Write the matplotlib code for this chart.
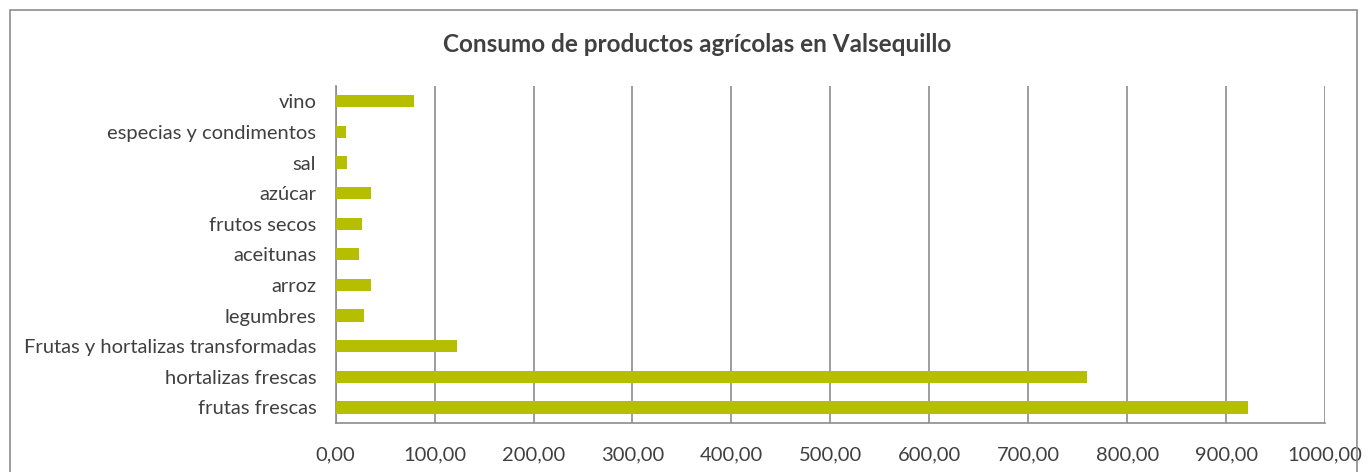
import matplotlib
matplotlib.use("Agg")
import matplotlib.pyplot as plt
from matplotlib.patches import Rectangle

categories = ["frutas frescas", "hortalizas frescas", "Frutas y hortalizas transformadas",
              "legumbres", "arroz", "aceitunas", "frutos secos", "azúcar", "sal",
              "especias y condimentos", "vino"]
values = [922.0, 759.0, 123.0, 28.5, 36.0, 23.5, 26.5, 36.0, 11.0, 10.5, 79.0]
xticks = [0, 100, 200, 300, 400, 500, 600, 700, 800, 900, 1000]
xticklabels = ["0,00", "100,00", "200,00", "300,00", "400,00", "500,00",
               "600,00", "700,00", "800,00", "900,00", "1000,00"]
title = "Consumo de productos agrícolas en Valsequillo"

plt.rcParams['font.family'] = ['Lato', 'DejaVu Sans']

fig = plt.figure(figsize=(13.68, 4.72), dpi=100)
fig.patches.append(Rectangle((10/1368, -0.05), 1347/1368, 1.05 - 10/472,
                             transform=fig.transFigure, fill=False,
                             edgecolor="#8c8c8c", linewidth=1.2))
ax = fig.add_axes([335.7/1368, 1 - 422.7/472, (1325 - 335.7)/1368, (422.7 - 86)/472])

ax.barh(range(len(categories)), values, height=0.4, color="#B5BF00", zorder=3)
ax.set_xlim(0, 1000)
ax.set_ylim(-0.5, len(categories) - 0.5)
ax.set_xticks(xticks)
ax.set_xticklabels(xticklabels, fontsize=14.5, color="#404040")
ax.set_yticks(range(len(categories)))
ax.set_yticklabels(categories, fontsize=14.5, color="#404040")
ax.tick_params(axis="both", length=0)
ax.tick_params(axis="x", pad=17)
ax.tick_params(axis="y", pad=14)
ax.grid(axis="x", color="#8c8c8c", linewidth=1.2, zorder=0)
for s in ["top", "right"]:
    ax.spines[s].set_visible(False)
for s in ["left", "bottom"]:
    ax.spines[s].set_color("#8c8c8c")
    ax.spines[s].set_linewidth(1.2)

fig.text(697/1368, 1 - 45/472, title, ha="center", va="center",
         fontsize=17.5, fontweight="bold", color="#404040")

fig.savefig("out.png", dpi=100)
